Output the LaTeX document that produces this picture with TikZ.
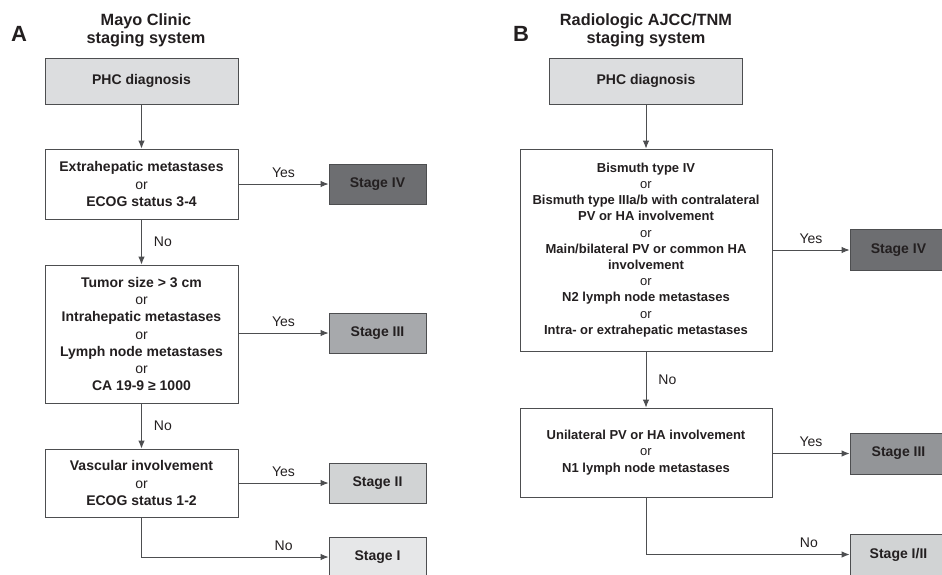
\documentclass[tikz,border=0pt]{standalone}
\usepackage{fontspec}
\setmainfont{Liberation Sans}
\usetikzlibrary{arrows.meta}
\definecolor{linegray}{HTML}{4D4E50}
\definecolor{textdark}{HTML}{231F20}
\definecolor{phcgray}{HTML}{DCDDDF}
\definecolor{stagefour}{HTML}{6D6E71}
\definecolor{stagethree}{HTML}{A7A9AC}
\definecolor{stagethreeb}{HTML}{939598}
\definecolor{stagetwo}{HTML}{D1D3D4}
\definecolor{stageone}{HTML}{E6E7E8}
\newcommand{\orword}{{\mdseries or}}

\begin{document}
\begin{tikzpicture}[x=1pt,y=-1pt]
\useasboundingbox (0,0) rectangle (942,574);
\tikzset{box/.style={draw=linegray, line width=0.9pt, align=center, inner sep=0pt, text=textdark, font=\fontsize{14}{17.3}\selectfont\bfseries}}
\tikzset{critbox/.style={box, fill=white, minimum width=193pt}}
\tikzset{stagebox/.style={box, minimum width=97pt, minimum height=40pt}}
\tikzset{titletext/.style={font=\fontsize{16.3}{17.5}\selectfont\bfseries, text=textdark, align=center}}
\tikzset{paneltag/.style={font=\fontsize{22}{22}\selectfont\bfseries, text=textdark}}
\tikzset{answer/.style={font=\fontsize{14}{17}\selectfont, text=textdark, inner sep=2pt}}
\tikzset{EdgeStyle/.style={->, draw=linegray, line width=0.9pt}}
\tikzset{>={Latex[length=8pt,width=6.5pt]}}
% panel A
\node[paneltag] (tag-a) at (19,34) {A};
\node[titletext] (title-a) at (146,30.5) {Mayo Clinic\\staging system};
\node[box, fill=phcgray, minimum width=193pt, minimum height=46pt] (phc-a) at (141.5,81) {PHC diagnosis};
\node[critbox, minimum height=70pt] (crit1-a) at (141.5,184) {Extrahepatic metastases\\\orword\\ECOG status 3-4};
\node[critbox, minimum height=138pt] (crit2-a) at (141.5,334) {Tumor size > 3 cm\\\orword\\Intrahepatic metastases\\\orword\\Lymph node metastases\\\orword\\CA 19-9 ≥ 1000};
\node[critbox, minimum height=68pt] (crit3-a) at (141.5,483) {Vascular involvement\\\orword\\ECOG status 1-2};
\node[stagebox, fill=stagefour] (stage4-a) at (377.5,184) {Stage IV};
\node[stagebox, fill=stagethree] (stage3-a) at (377.5,333) {Stage III};
\node[stagebox, fill=stagetwo] (stage2-a) at (377.5,483) {Stage II};
\node[stagebox, fill=stageone] (stage1-a) at (377.5,557) {Stage I};
\draw[EdgeStyle] (phc-a) -- (crit1-a);
\draw[EdgeStyle] (crit1-a) -- node[answer, above=4pt] {Yes} (stage4-a);
\draw[EdgeStyle] (crit1-a) -- node[answer, right=10pt] {No} (crit2-a);
\draw[EdgeStyle] (crit2-a.east |- stage3-a) -- node[answer, above=4pt] {Yes} (stage3-a);
\draw[EdgeStyle] (crit2-a) -- node[answer, right=10pt] {No} (crit3-a);
\draw[EdgeStyle] (crit3-a) -- node[answer, above=4pt] {Yes} (stage2-a);
\draw[EdgeStyle] (crit3-a) |- node[answer, above=4pt, pos=0.88] {No} (stage1-a);
% panel B
\tikzset{critbox/.append style={minimum width=252pt, font=\fontsize{13}{16.2}\selectfont\bfseries}}
\node[paneltag] (tag-b) at (521,34) {B};
\node[titletext] (title-b) at (646,30.5) {Radiologic AJCC/TNM\\staging system};
\node[box, fill=phcgray, minimum width=193pt, minimum height=46pt] (phc-b) at (646,81) {PHC diagnosis};
\node[critbox, minimum height=202pt] (crit1-b) at (646,250) {Bismuth type IV\\\orword\\Bismuth type IIIa/b with contralateral\\PV or HA involvement\\\orword\\Main/bilateral PV or common HA\\involvement\\\orword\\N2 lymph node metastases\\\orword\\Intra- or extrahepatic metastases};
\node[critbox, minimum height=89pt] (crit2-b) at (646,452.5) {Unilateral PV or HA involvement\\\orword\\N1 lymph node metastases};
\node[stagebox, fill=stagefour, minimum height=41pt] (stage4-b) at (898.5,250) {Stage IV};
\node[stagebox, fill=stagethreeb, minimum height=41pt] (stage3-b) at (898.5,453.5) {Stage III};
\node[stagebox, fill=stagetwo, minimum height=41pt] (stage12-b) at (898.5,554.5) {Stage I/II};
\draw[EdgeStyle] (phc-b) -- (crit1-b);
\draw[EdgeStyle] (crit1-b) -- node[answer, above=4pt] {Yes} (stage4-b);
\draw[EdgeStyle] (crit1-b) -- node[answer, right=10pt] {No} (crit2-b);
\draw[EdgeStyle] (crit2-b.east |- stage3-b) -- node[answer, above=4pt] {Yes} (stage3-b);
\draw[EdgeStyle] (crit2-b) |- node[answer, above=4pt, pos=0.9] {No} (stage12-b);
\end{tikzpicture}
\end{document}
